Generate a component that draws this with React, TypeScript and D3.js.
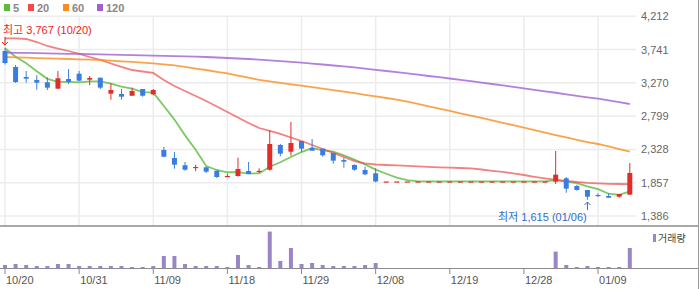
import React from "react";
import * as d3 from "d3";

const dates = [
  "10/20","10/21","10/22","10/23","10/24","10/27","10/28","10/31",
  "11/01","11/03","11/04","11/05","11/06","11/07","11/09",
  "11/10","11/11","11/12","11/13","11/14","11/17","11/18",
  "11/19","11/20","11/21","11/24","11/25","11/26","11/29",
  "12/01","12/02","12/03","12/04","12/05","12/06","12/08",
  "12/09","12/10","12/11","12/12","12/15","12/17","12/19",
  "12/20","12/21","12/22","12/23","12/24","12/26","12/28",
  "12/29","12/30","12/31","01/02","01/05","01/06","01/09",
  "01/12","01/13","01/14",
];

const opens = [
  3721,3495,3353,3311,3278,3188,3325,3400,3315,3343,
  3117,3113,3088,3183,3108,2320,2207,2104,2068,2075,
  2027,1945,1952,2023,2015,2041,2391,2296,2447,2348,
  2339,2278,2179,2108,2037,1990,1875,1875,1875,1875,
  1875,1875,1875,1875,1875,1875,1875,1875,1875,1875,
  1875,1875,1872,1920,1811,1754,1683,1669,1659,1688,
];
const highs = [
  3767,3523,3438,3377,3349,3438,3466,3438,3367,3343,
  3264,3183,3202,3183,3183,2363,2292,2150,2112,2084,
  2027,1985,2211,2150,2061,2603,2405,2716,2447,2476,
  2339,2278,2211,2117,2084,2061,1875,1875,1875,1875,
  1875,1875,1875,1875,1875,1875,1875,1875,1875,1875,
  1875,1875,2306,1938,1829,1754,1707,1707,1698,2136,
];
const lows = [
  3530,3268,3272,3173,3169,3185,3254,3292,3236,3183,
  3032,3032,3088,3074,3094,2217,2056,2027,2019,1995,
  1924,1938,1943,1981,1995,2027,2231,2239,2292,2310,
  2225,2126,2070,2027,1962,1863,1875,1875,1875,1875,
  1875,1875,1875,1875,1875,1875,1875,1875,1875,1875,
  1875,1875,1839,1716,1745,1615,1659,1645,1645,1688,
];
const closes = [
  3551,3282,3329,3272,3202,3335,3282,3301,3339,3202,
  3169,3074,3155,3088,3169,2225,2112,2041,2080,2013,
  1938,1952,2051,1981,2025,2405,2268,2419,2339,2310,
  2245,2169,2155,2041,1976,1875,1875,1875,1875,1875,
  1875,1875,1875,1875,1875,1875,1875,1875,1875,1875,
  1875,1875,1971,1773,1754,1659,1675,1645,1698,1995,
];
const volumes = [
  99000,129000,99000,69000,69000,129000,129000,69000,69000,69000,
  69000,69000,39000,39000,69000,369000,369000,129000,69000,69000,
  69000,39000,399000,99000,39000,1101000,219000,609000,129000,159000,
  99000,69000,69000,69000,99000,159000,0,0,0,0,
  0,0,0,0,0,0,0,0,0,0,
  0,0,501000,99000,39000,69000,39000,39000,39000,609000,
];

const ma5 = [
  3760,3640,3547,3434,3327,3284,3284,3278,3292,3292,
  3259,3217,3188,3138,3131,2942,2750,2527,2325,2094,
  2037,2005,2007,1987,1989,2083,2146,2220,2291,2348,
  2316,2296,2244,2184,2117,2043,1984,1928,1895,1875,
  1875,1875,1875,1875,1875,1875,1875,1875,1875,1875,
  1875,1875,1894,1874,1850,1806,1766,1701,1686,1734,
];
const ma20 = [
  3901,3901,3891,3848,3792,3756,3721,3679,3636,3594,
  3544,3495,3452,3431,3410,3311,3226,3155,3084,3013,
  2936,2858,2780,2702,2631,2589,2547,2497,2447,2391,
  2334,2278,2221,2164,2132,2115,2108,2101,2094,2087,
  2080,2075,2071,2065,2061,2044,2026,2009,1988,1966,
  1941,1917,1896,1882,1867,1856,1849,1842,1839,1835,
];
const ma60 = [
  3636,3632,3626,3621,3616,3612,3608,3602,3598,3594,
  3585,3575,3567,3557,3547,3531,3517,3497,3473,3452,
  3427,3403,3374,3343,3311,3292,3270,3250,3230,3209,
  3188,3166,3145,3124,3101,3079,3056,3033,3005,2972,
  2938,2906,2872,2839,2805,2773,2738,2705,2671,2637,
  2602,2566,2532,2497,2464,2433,2405,2371,2333,2296,
];
const ma120 = [
  3697,3694,3693,3690,3687,3684,3681,3679,3677,3674,
  3670,3667,3663,3660,3656,3653,3649,3646,3642,3636,
  3629,3622,3615,3608,3599,3588,3578,3567,3557,3543,
  3530,3516,3502,3488,3472,3455,3438,3421,3404,3386,
  3367,3350,3332,3313,3294,3274,3254,3234,3213,3193,
  3172,3151,3130,3108,3087,3066,3046,3022,2997,2971,
];

const priceTicks = [4212, 3741, 3270, 2799, 2328, 1857, 1386];
const maNames = ["5", "20", "60", "120"];
const maColors = ["#5dbb3c", "#f04b4b", "#f78d1e", "#a060d2"];
const maSeries = [ma5, ma20, ma60, ma120];

const highLabel = "최고 3,767 (10/20)";
const lowLabel = "최저 1,615 (01/06)";
const volLabel = "거래량";

const W = 700;
const H = 289;

export default function App() {
  const x = d3.scalePoint<string>().domain(dates).range([5, 629.8]);
  const y = d3.scaleLinear().domain([1386, 4212]).range([216, 16.3]);
  const yv = d3.scaleLinear().domain([0, 1200000]).range([268.3, 228.3]);
  const xi = (i: number) => x(dates[i]) as number;

  const tickIdx = dates.map((_, i) => i).filter((i) => i % 7 === 0);

  const hiIdx = highs.indexOf(d3.max(highs) as number);
  const loIdx = lows.indexOf(d3.min(lows) as number);

  const lineGen = (arr: number[]) =>
    d3
      .line<number>()
      .x((_, i) => xi(i))
      .y((d) => y(d))(arr) as string;

  const font = "'Liberation Sans', Arial, 'Noto Sans CJK KR', sans-serif";
  const up = "#e12d28";
  const down = "#3a7de1";

  return (
    <svg
      width={W}
      height={H}
      style={{ position: "absolute", left: 0, top: 0, background: "#fff" }}
      fontFamily={font}
    >
      {/* legend */}
      {maNames.map((n, k) => {
        const lx = [4, 28, 63, 97][k];
        return (
          <g key={n}>
            <rect x={lx} y={4} width={6} height={7} fill={maColors[k]} />
            <text x={lx + 9} y={11.5} fontSize={11} fontWeight="bold" fill="#888">
              {n}
            </text>
          </g>
        );
      })}

      {/* grid */}
      {priceTicks.map((t) => (
        <line key={"h" + t} x1={0} x2={636} y1={y(t)} y2={y(t)} stroke="#ececec" strokeWidth={1.5} />
      ))}
      {tickIdx.map((i) => (
        <line key={"v" + i} x1={xi(i)} x2={xi(i)} y1={16} y2={226} stroke="#ececec" strokeWidth={1.5} />
      ))}

      {/* price labels */}
      {priceTicks.map((t) => (
        <text key={"t" + t} x={641} y={y(t) + 4} fontSize={11} fill="#666">
          {d3.format(",")(t)}
        </text>
      ))}

      {/* moving averages */}
      {maSeries.map((s, k) => (
        <path
          key={"ma" + k}
          d={lineGen(s)}
          fill="none"
          stroke={maColors[k]}
          strokeWidth={1.8}
          strokeOpacity={k === 1 ? 0.7 : 0.8}
        />
      ))}

      {/* candles */}
      {dates.map((d, i) => {
        const o = opens[i];
        const c = closes[i];
        const col = c >= o ? up : down;
        const cx = xi(i);
        const yTop = y(Math.max(o, c));
        const yBot = y(Math.min(o, c));
        return (
          <g key={"c" + i}>
            <line x1={cx} x2={cx} y1={y(highs[i])} y2={y(lows[i])} stroke={col} strokeWidth={1} />
            <rect x={cx - 2.5} y={yTop} width={5} height={Math.max(1.2, yBot - yTop)} fill={col} />
          </g>
        );
      })}

      {/* high annotation */}
      <text x={3} y={34} fontSize={11} fill="#ee1c1c">{highLabel}</text>
      <line x1={xi(hiIdx)} x2={xi(hiIdx)} y1={37} y2={45} stroke="#ee1c1c" strokeWidth={1} />
      <path
        d={`M${xi(hiIdx) - 3},${42} L${xi(hiIdx)},${45} L${xi(hiIdx) + 3},${42}`}
        fill="none"
        stroke="#ee1c1c"
        strokeWidth={1}
      />

      {/* low annotation */}
      <line x1={xi(loIdx)} x2={xi(loIdx)} y1={202} y2={210} stroke="#2d6ec8" strokeWidth={1} />
      <path
        d={`M${xi(loIdx) - 3},${205} L${xi(loIdx)},${202} L${xi(loIdx) + 3},${205}`}
        fill="none"
        stroke="#2d6ec8"
        strokeWidth={1}
      />
      <text x={498} y={221} fontSize={11} fill="#2d6ec8">{lowLabel}</text>

      {/* panel frame */}
      <line x1={0} x2={699} y1={226} y2={226} stroke="#8c8c8c" strokeWidth={1.5} />
      <line x1={0} x2={699} y1={268.5} y2={268.5} stroke="#8c8c8c" strokeWidth={1} />
      <line x1={698.5} x2={698.5} y1={0} y2={H} stroke="#9a9a9a" strokeWidth={1} />

      {/* volume */}
      {volumes.map((v, i) =>
        v > 0 ? (
          <rect key={"vol" + i} x={xi(i) - 2} y={yv(v)} width={4} height={yv(0) - yv(v)} fill="#9a86c6" />
        ) : null
      )}
      <rect x={653} y={234} width={3} height={8} fill="#9a86c6" />
      <text x={658} y={242} fontSize={10} fill="#444">{volLabel}</text>

      {/* x axis */}
      {tickIdx.map((i) => (
        <g key={"xt" + i}>
          <line x1={xi(i)} x2={xi(i)} y1={268.5} y2={274} stroke="#888" strokeWidth={1} />
          <text x={xi(i) + 1} y={284} fontSize={11} fill="#555">
            {dates[i]}
          </text>
        </g>
      ))}
    </svg>
  );
}
